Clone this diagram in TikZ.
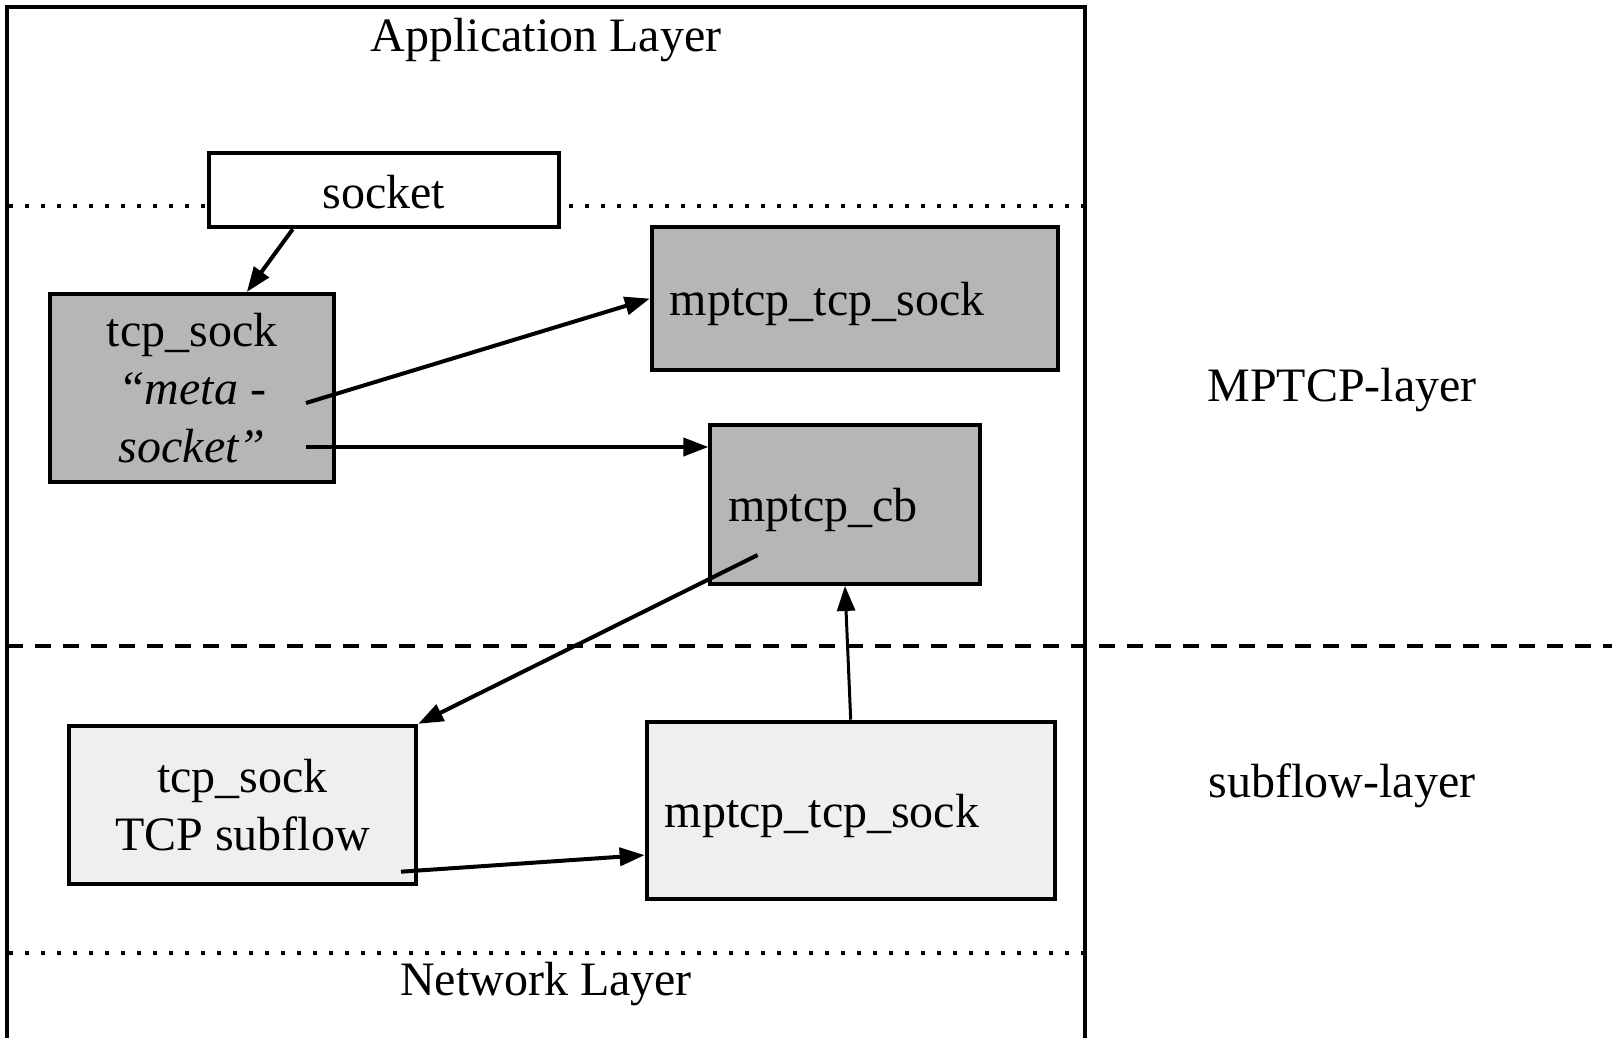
\documentclass[tikz,border=0pt]{standalone}
\usepackage{fontspec}
\setmainfont{Liberation Serif}
\usetikzlibrary{arrows.meta,calc}
\definecolor{boxdark}{HTML}{B6B6B6}
\definecolor{boxlight}{HTML}{EFEFEF}
\begin{document}
\begin{tikzpicture}[x=1pt,y=-1pt,
  txt/.style={font=\fontsize{48}{57}\selectfont, inner sep=0pt},
  box/.style={draw, line width=4pt, font=\fontsize{48}{58}\selectfont, align=center, inner sep=0pt},
  leftbox/.style={box, align=left, inner xsep=18pt, text height=45pt, text depth=10.4pt},
  dotline/.style={line width=4pt, dash pattern=on 4pt off 12pt},
  dashline/.style={line width=4pt, dash pattern=on 16pt off 12pt},
  arr/.style={line width=4pt, -{Triangle[length=25pt,width=18pt]}},
  thinarr/.style={line width=3pt, -{Triangle[length=25pt,width=18pt]}}]
\useasboundingbox (0,0) rectangle (1612,1038);
\fill[white] (0,0) rectangle (1612,1038);

% layer separators
\draw[dotline] (9,205.6) -- (1085,205.6);
\draw[dashline] (7,645.6) -- (1612,645.6);
\draw[dotline] (9,953) -- (1085,953);
% outer frame
\draw[line width=4pt] (7.2,1050) -- (7.2,7.2) -- (1085,7.2) -- (1085,1050);

% layer labels
\node[txt] (app) at (546,40) {Application Layer};
\node[txt] (net) at (546,984) {Network Layer};
\node[txt] (mplayer) at (1342,390.5) {MPTCP-layer};
\node[txt] (sflayer) at (1342,786) {subflow-layer};

% boxes
\node[box, fill=white, minimum width=350.6pt, minimum height=74pt, text height=37pt, text depth=0pt] (socket) at (384,190.2) {socket};
\node[box, fill=boxdark, minimum width=283.7pt, minimum height=188pt] (meta) at (192.3,388) {tcp\_sock\\\textit{“meta -}\\\textit{socket”}};
\node[leftbox, fill=boxdark, minimum width=406pt, minimum height=142.8pt, text width=370pt] (mtsA) at (854.8,298.6) {mptcp\_tcp\_sock};
\node[leftbox, fill=boxdark, minimum width=269.3pt, minimum height=159.3pt, text width=233.3pt] (cb) at (845,504.3) {mptcp\_cb};
\node[box, fill=boxlight, minimum width=347.4pt, minimum height=158.2pt] (sub) at (242.6,804.9) {tcp\_sock\\TCP subflow};
\node[leftbox, fill=boxlight, minimum width=408.1pt, minimum height=176.8pt, text width=372.1pt] (mtsB) at (850.7,810.1) {mptcp\_tcp\_sock};

% connector start points inside boxes
\coordinate (mA) at (306,403);
\coordinate (mB) at (306,447);
\coordinate (cbA) at (757.6,555);
\coordinate (sA) at (401,871.7);

% connectors
\draw[arr] ([xshift=86pt]socket.south west) -- ([xshift=198.4pt]meta.north west);
\draw[arr] (mA) -- (mtsA.west);
\draw[arr] (mB) -- (mB -| cb.west);
\draw[arr] (cbA) -- (sub.north east);
\draw[thinarr] (mtsB.north) -- (cb.south);
\draw[arr] (sA) -- ([yshift=-45pt]mtsB.west);
\end{tikzpicture}
\end{document}
